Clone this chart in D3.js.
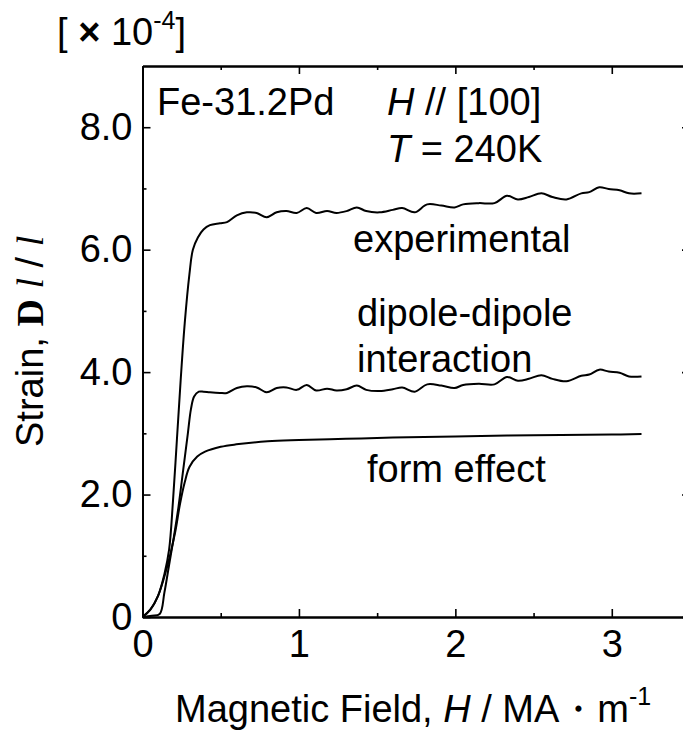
<!DOCTYPE html>
<html><head><meta charset="utf-8">
<script src="https://cdn.jsdelivr.net/npm/d3@7"></script>
<style>body{margin:0;background:#fff} svg{display:block}</style>
</head><body><svg id="c" width="683" height="738"></svg>
<script>
// ---- data ----
const expField  = [0,0.05,0.10,0.14,0.17,0.195,0.22,0.244,0.27,0.30,0.322,0.354,0.39,0.431,0.495,0.54,0.603,0.667,0.73,0.794,0.858,0.92,0.986,1.05,1.11,1.18,1.24,1.305,1.37,1.43,1.516,1.6,1.66,1.74,1.82,1.91,1.995,2.05,2.15,2.25,2.33,2.4,2.47,2.55,2.62,2.71,2.805,2.856,2.92,2.98,3.05,3.11,3.19];
const expStrain = [0,0.12,0.35,0.7,1.1,1.9,2.9,3.87,4.8,5.6,6.0,6.2,6.33,6.40,6.43,6.45,6.56,6.61,6.60,6.53,6.61,6.63,6.60,6.68,6.60,6.63,6.60,6.63,6.69,6.63,6.61,6.65,6.68,6.61,6.74,6.72,6.69,6.74,6.76,6.76,6.88,6.82,6.86,6.92,6.86,6.82,6.92,6.94,7.02,6.99,6.97,6.92,6.92];

const dipField  = [0,0.06,0.11,0.14,0.17,0.20,0.23,0.26,0.29,0.31,0.33,0.36,0.39,0.431,0.495,0.54,0.603,0.667,0.73,0.794,0.858,0.92,0.986,1.05,1.11,1.18,1.24,1.305,1.37,1.43,1.516,1.6,1.66,1.74,1.82,1.91,1.995,2.05,2.15,2.25,2.33,2.4,2.47,2.55,2.62,2.71,2.805,2.856,2.92,2.98,3.05,3.11,3.19];
const dipStrain = [0,0.02,0.05,0.4,0.85,1.3,1.8,2.4,3.0,3.4,3.6,3.68,3.68,3.67,3.66,3.66,3.74,3.77,3.75,3.67,3.74,3.75,3.71,3.79,3.70,3.73,3.70,3.72,3.78,3.71,3.69,3.72,3.75,3.68,3.80,3.78,3.74,3.79,3.81,3.80,3.92,3.86,3.89,3.95,3.89,3.85,3.94,3.96,4.04,4.01,3.99,3.93,3.93];

const formField  = [0,0.05,0.10,0.15,0.18,0.21,0.24,0.27,0.30,0.35,0.40,0.50,0.60,0.80,1.0,1.3,1.6,2.0,2.5,3.0,3.19];
const formStrain = [0,0.12,0.35,0.75,1.05,1.4,1.85,2.2,2.45,2.62,2.70,2.78,2.82,2.87,2.89,2.91,2.93,2.95,2.97,2.98,2.99];

const xMajor = [0,1,2,3];
const xMinor = [0.5,1.5,2.5];
const yMajor = [0,2,4,6,8];
const yMinor = [1,3,5,7];
const yLabels = ["0","2.0","4.0","6.0","8.0"];

// ---- layout ----
const L = 142.5, R = 690, T = 66, B = 617;
const FS = 38;
const FONT = "'Liberation Sans', Arial, sans-serif";
const SERIF = "'Liberation Serif', 'Times New Roman', serif";
const svg = d3.select("#c");
const x = d3.scaleLinear().domain([0,3.5]).range([L,R]);
const y = d3.scaleLinear().domain([0,9]).range([B,T]);

function styleAxis(g){
  g.selectAll("path").attr("stroke","#000").attr("stroke-width",2);
  g.selectAll("line").attr("stroke","#000").attr("stroke-width",1.6);
  g.selectAll("text").attr("font-family",FONT).attr("font-size",FS).attr("fill","#000");
}

// bottom
svg.append("g").attr("transform",`translate(0,${B})`)
  .call(d3.axisBottom(x).tickValues(xMajor).tickSize(-8).tickSizeOuter(0).tickPadding(13).tickFormat(d3.format("d")))
  .call(styleAxis);
svg.append("g").attr("transform",`translate(0,${B})`)
  .call(d3.axisBottom(x).tickValues(xMinor).tickSize(-4).tickSizeOuter(0).tickFormat(""))
  .call(styleAxis);
// top
svg.append("g").attr("transform",`translate(0,${T})`)
  .call(d3.axisTop(x).tickValues(xMajor).tickSize(-8).tickSizeOuter(0).tickFormat(""))
  .call(styleAxis);
svg.append("g").attr("transform",`translate(0,${T})`)
  .call(d3.axisTop(x).tickValues(xMinor).tickSize(-4).tickSizeOuter(0).tickFormat(""))
  .call(styleAxis);
// left
svg.append("g").attr("transform",`translate(${L},0)`)
  .call(d3.axisLeft(y).tickValues(yMajor).tickSize(-8).tickSizeOuter(0).tickPadding(10).tickFormat((d,i)=>yLabels[i]))
  .call(styleAxis);
svg.append("g").attr("transform",`translate(${L},0)`)
  .call(d3.axisLeft(y).tickValues(yMinor).tickSize(-4).tickSizeOuter(0).tickFormat(""))
  .call(styleAxis);
// right
svg.append("g").attr("transform",`translate(${R},0)`)
  .call(d3.axisRight(y).tickValues(yMajor).tickSize(-8).tickSizeOuter(0).tickFormat(""))
  .call(styleAxis);
svg.append("g").attr("transform",`translate(${R},0)`)
  .call(d3.axisRight(y).tickValues(yMinor).tickSize(-4).tickSizeOuter(0).tickFormat(""))
  .call(styleAxis);

// ---- curves ----
const line = d3.line().x(d=>x(d[0])).y(d=>y(d[1])).curve(d3.curveCatmullRom.alpha(0.5));
const series = [
  d3.zip(expField, expStrain),
  d3.zip(dipField, dipStrain),
  d3.zip(formField, formStrain)
];
svg.append("g").selectAll("path").data(series).join("path")
  .attr("d", line).attr("fill","none").attr("stroke","#000").attr("stroke-width",2)
  .attr("stroke-linejoin","round");

// ---- text ----
function txt(xp, yp, size){
  return svg.append("text").attr("x",xp).attr("y",yp).attr("font-family",FONT)
    .attr("font-size",size).attr("fill","#000");
}
// unit
const u = txt(57, 45, FS);
u.append("tspan").text("[ ");
u.append("tspan").attr("font-weight","bold").text("\u00D7");
u.append("tspan").text(" 10");
u.append("tspan").attr("dy",-16).attr("font-size",25).text("-4");
u.append("tspan").attr("dy",16).text("]");

txt(157, 115, FS).text("Fe-31.2Pd");
const h = txt(387, 115, FS);
h.append("tspan").attr("font-style","italic").text("H");
h.append("tspan").text(" // [100]");
const t = txt(387, 162, FS);
t.append("tspan").attr("font-style","italic").text("T");
t.append("tspan").text(" = 240K");

txt(353, 252, FS).text("experimental");
txt(357, 326, FS).text("dipole-dipole");
txt(357, 372, FS).text("interaction");
txt(367, 482, FS).text("form effect");

// x title
const xt = txt(175, 722, FS);
xt.append("tspan").text("Magnetic Field, ");
xt.append("tspan").attr("font-style","italic").text("H");
xt.append("tspan").text(" / MA\u30FBm");
xt.append("tspan").attr("dy",-17).attr("font-size",25).text("-1");

// y title
const yt = svg.append("text").attr("transform","translate(43,447) rotate(-90)")
  .attr("font-family",FONT).attr("font-size",FS).attr("fill","#000");
yt.append("tspan").text("Strain, ");
yt.append("tspan").attr("font-family",SERIF).attr("font-weight","bold").text("D");
yt.append("tspan").text(" ");
yt.append("tspan").attr("font-family",SERIF).attr("font-style","italic").text("l");
yt.append("tspan").text(" / ");
yt.append("tspan").attr("font-family",SERIF).attr("font-style","italic").text("l");
</script></body></html>
